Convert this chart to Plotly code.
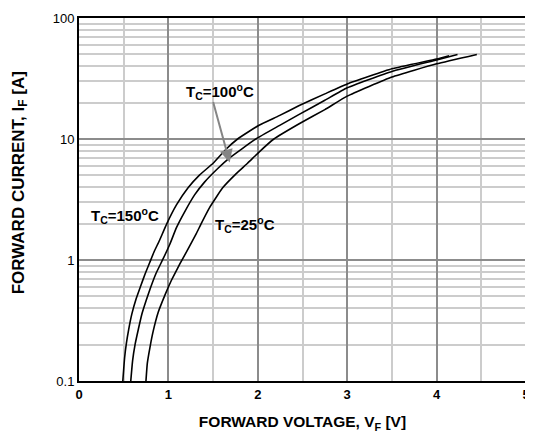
import plotly.graph_objects as go

# ---- data ----
v150 = [0.49, 0.51, 0.53, 0.555, 0.59, 0.64, 0.69, 0.74, 0.79, 0.84, 0.90, 0.98, 1.09, 1.22,
        1.35, 1.50, 1.65, 1.774, 2.014, 2.24, 2.458, 2.75, 3.0, 3.5, 4.0, 4.14]
i150 = [0.1, 0.155, 0.205, 0.265, 0.355, 0.48, 0.61, 0.77, 0.95, 1.17, 1.45, 1.98, 2.85, 3.95,
        5.05, 6.3, 8.3, 10.0, 13.0, 15.6, 18.8, 23.6, 28.5, 38.0, 45.8, 48.8]

v100 = [0.579, 0.60, 0.627, 0.664, 0.70, 0.75, 0.80, 0.86, 0.94, 1.016, 1.09, 1.182,
        1.293, 1.404, 1.552, 1.681, 1.978, 2.24, 2.458, 2.75, 3.0, 3.5, 4.0, 4.234]
i100 = [0.1, 0.148, 0.2, 0.268, 0.35, 0.46, 0.59, 0.77, 1.02, 1.35, 1.85, 2.5,
        3.45, 4.4, 5.7, 6.95, 10.0, 12.9, 15.9, 20.9, 26.5, 36.2, 45.0, 50.0]

v25 = [0.749, 0.764, 0.794, 0.83, 0.886, 0.96, 1.034, 1.108, 1.145, 1.219, 1.312, 1.367, 1.459,
       1.607, 1.756, 1.885, 2.014, 2.18, 2.458, 2.75, 3.0, 3.5, 4.0, 4.45]
i25 = [0.1, 0.14, 0.19, 0.258, 0.37, 0.51, 0.68, 0.87, 0.98, 1.23, 1.65, 2.0, 2.7,
       3.95, 5.15, 6.3, 7.8, 10.0, 13.3, 17.5, 22.6, 32.5, 41.8, 50.0]

x_ticks = [0, 1, 2, 3, 4, 5]
x_minor = [0.5, 1.5, 2.5, 3.5, 4.5]
y_ticks = [0.1, 1, 10, 100]
y_tick_text = ["0.1", "1", "10", "100"]
y_minor = [0.2, 0.3, 0.4, 0.5, 0.6, 0.7, 0.8, 0.9, 2, 3, 4, 5, 6, 7, 8, 9,
           20, 30, 40, 50, 60, 70, 80, 90]

labels = ["T<sub>C</sub>=150<sup>o</sup>C", "T<sub>C</sub>=100<sup>o</sup>C", "T<sub>C</sub>=25<sup>o</sup>C"]
x_title = "FORWARD VOLTAGE, V<sub>F</sub> [V]"
y_title = "FORWARD CURRENT, I<sub>F</sub> [A]"

FONT = "Liberation Sans, Arial, sans-serif"

fig = go.Figure()
for v, i in [(v150, i150), (v100, i100), (v25, i25)]:
    fig.add_trace(go.Scatter(x=v, y=i, mode="lines",
                             line=dict(color="black", width=1.6, shape="spline", smoothing=0.4),
                             showlegend=False, hoverinfo="skip"))

lab_font = dict(family=FONT, size=15, color="black", weight="bold")
fig.add_annotation(x=0.513, y=0.37, text=labels[0], showarrow=False, font=lab_font)
fig.add_annotation(x=1.578, y=1.39, text=labels[1], showarrow=False, font=lab_font)
fig.add_annotation(x=1.855, y=0.29, text=labels[2], showarrow=False, font=lab_font)
# arrow for the 100 C curve
fig.add_annotation(x=1.686, y=0.806, ax=-17, ay=-62, text="", showarrow=True,
                   arrowhead=2, arrowsize=1.3, arrowwidth=2, arrowcolor="#858585")

# y-axis title (sits slightly above the plot's vertical centre in the reference)
fig.add_annotation(xref="paper", yref="paper", x=-0.133, y=0.546, text=y_title,
                   textangle=-90, showarrow=False, xanchor="center", yanchor="middle",
                   font=dict(family=FONT, size=17, color="black", weight="bold"))

# the page body adds an 8px margin, so the figure is sized to fit the window
fig.update_layout(
    width=525, height=433,
    margin=dict(l=71, r=4, t=3, b=60),
    paper_bgcolor="white", plot_bgcolor="white",
    font=dict(family=FONT, color="black"),
)
fig.update_xaxes(
    range=[0, 5], tickvals=x_ticks, ticks="", ticklabeloverflow="allow",
    tickfont=dict(family=FONT, size=13, weight="bold"),
    showgrid=True, gridcolor="#8c8c8c", gridwidth=1.5,
    minor=dict(tickvals=x_minor, showgrid=True, gridcolor="#cccccc", gridwidth=1.5),
    showline=True, linecolor="black", linewidth=2, mirror=True, zeroline=False,
    title=dict(text=x_title, standoff=16,
               font=dict(family=FONT, size=15.5, weight="bold")),
)
fig.update_yaxes(
    type="log", range=[-1, 2], tickvals=y_ticks, ticktext=y_tick_text, ticks="",
    ticklabeloverflow="allow",
    tickfont=dict(family=FONT, size=13),
    showgrid=True, gridcolor="#8c8c8c", gridwidth=1.5,
    minor=dict(tickvals=y_minor, showgrid=True, gridcolor="#cccccc", gridwidth=1.5),
    showline=True, linecolor="black", linewidth=2, mirror=True, zeroline=False,
)

fig.write_html("out.html")
